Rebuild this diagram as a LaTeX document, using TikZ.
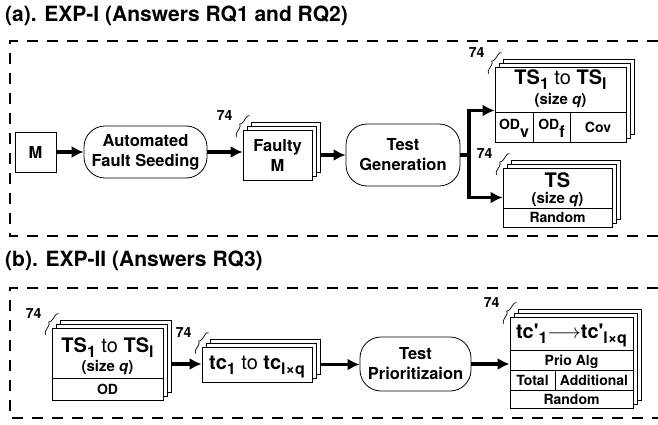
\documentclass[tikz,border=0pt]{standalone}
\usepackage{fontspec}
\setmainfont{TeX Gyre Heros}
\usepackage{tikz}
\usetikzlibrary{arrows.meta,shadows,decorations.pathreplacing}
\newcommand{\lowidx}[2][5pt]{\raisebox{-#1}{\fontsize{16}{16}\selectfont #2}}
\newcommand{\tsrange}{TS\lowidx{1} {\mdseries to} TS\lowidx{l}}
\tikzstyle{dashframe} = [line width=1.4pt, dash pattern=on 11pt off 9pt]
\tikzstyle{heading} = [anchor=west, inner sep=0, font=\fontsize{21}{24}\selectfont\bfseries]
\tikzstyle{block} = [draw, line width=0.8pt, fill=white, align=center, inner sep=0, font=\fontsize{16.5}{20}\selectfont\bfseries]
\tikzstyle{process} = [block, rounded corners=21pt]
\tikzstyle{stackbox} = [block, double copy shadow={shadow xshift=4pt, shadow yshift=4pt, fill=white, draw, line width=0.8pt}]
\tikzstyle{cell} = [anchor=base, inner sep=0, font=\fontsize{14}{16}\selectfont\bfseries]
\tikzstyle{big} = [anchor=base, inner sep=0, font=\fontsize{20}{22}\selectfont\bfseries]
\tikzstyle{tally} = [inner sep=0, font=\fontsize{14}{16}\selectfont\bfseries]
\tikzstyle{countbrace} = [draw, line width=0.7pt, decorate, decoration={brace, amplitude=4pt}]
\tikzstyle{divider} = [draw, line width=0.8pt]
\tikzstyle{line} = [draw, line width=3.5pt, -{Latex[length=12pt, width=12pt]}]

\begin{document}
\begin{tikzpicture}[x=1pt, y=-1pt]
		\useasboundingbox (0,0) rectangle (658,425);
		% Headings and frames
		\node [heading] (heada) at (5,16) {(a). EXP-I (Answers RQ1 and RQ2)};
		\draw [dashframe] (658,41) -- (10,41) -- (10,236) -- (658,236);
		\node [heading] (headb) at (5,261) {(b). EXP-II (Answers RQ3)};
		\draw [dashframe] (658,288) -- (10,288) -- (10,418) -- (658,418);
		% Place nodes (a)
		\node [block, minimum width=41pt, minimum height=40pt] (m) at (35.5,152) {M};
		\node [process, minimum width=123pt, minimum height=52pt] (seed) at (145.5,152) {Automated\\Fault Seeding};
		\node [stackbox, minimum width=69pt, minimum height=50pt] (faulty) at (277.5,155) {Faulty\\M};
		\node [process, minimum width=114pt, minimum height=62pt] (tgen) at (403,155) {Test\\Generation};
		\node [stackbox, minimum width=131pt, minimum height=75pt] (tsa) at (560.5,104.5) {};
		\node [stackbox, minimum width=109pt, minimum height=59pt] (tsr) at (557.5,197.5) {};
		\node [big] (tsa-name) at (560.5,85) {\tsrange};
		\node [cell, font=\fontsize{15}{17}\selectfont\bfseries] (tsa-size) at (560.5,105) {(size \textit{q})};
		\draw [divider] (tsa.west |- 0,112) -- (tsa.east |- 0,112);
		\draw [divider] (533,112) -- (533,142);
		\draw [divider] (570,112) -- (570,142);
		\node [cell] (odv) at (514,129) {OD\lowidx[9pt]{v}};
		\node [cell] (odf) at (551.5,129) {OD\lowidx[9pt]{f}};
		\node [cell] (cov) at (598,132) {Cov};
		\node [big] (tsr-name) at (557.5,187) {TS};
		\node [cell, font=\fontsize{15}{17}\selectfont\bfseries] (tsr-size) at (557.5,203) {(size \textit{q})};
		\draw [divider] (tsr.west |- 0,208) -- (tsr.east |- 0,208);
		\node [cell] (tsr-rand) at (557.5,222.5) {Random};
		% Place nodes (b)
		\node [stackbox, minimum width=111pt, minimum height=72pt] (tsb) at (107.5,364) {};
		\node [stackbox, minimum width=110pt, minimum height=35pt] (tcb) at (257,364.5) {};
		\node [process, minimum width=111pt, minimum height=54pt] (tprio) at (415.5,364) {Test\\Prioritizaion};
		\node [stackbox, minimum width=123pt, minimum height=91pt] (ranked) at (571.5,362.5) {};
		\node [big] (tsb-name) at (107.5,352) {\tsrange};
		\node [cell, font=\fontsize{15}{17}\selectfont\bfseries] (tsb-size) at (107.5,371) {(size \textit{q})};
		\draw [divider] (tsb.west |- 0,378) -- (tsb.east |- 0,378);
		\node [cell] (tsb-od) at (107.5,394) {OD};
		\node [big] (tcb-name) at (257,369) {tc\lowidx{1} {\mdseries to} tc\lowidx{l×q}};
		\node [big] (ranked-name) at (571.5,338) {tc\textquotesingle\lowidx{1}$\longrightarrow$tc\textquotesingle\lowidx{l×q}};
		\draw [divider] (ranked.west |- 0,350) -- (ranked.east |- 0,350);
		\draw [divider] (ranked.west |- 0,370) -- (ranked.east |- 0,370);
		\draw [divider] (ranked.west |- 0,390) -- (ranked.east |- 0,390);
		\draw [divider] (555,370) -- (555,390);
		\node [cell] (alg) at (571.5,365) {Prio Alg};
		\node [cell] (total) at (532.5,385) {Total};
		\node [cell] (addl) at (594,385) {Additional};
		\node [cell] (ranked-rand) at (571.5,404) {Random};
		% Counts
		\foreach \s in {faulty,tsa,tsr,tsb,tcb,ranked} {
			\draw [countbrace] ([shift={(-6pt,-7pt)}]\s.north west) -- ([shift={(7pt,14pt)}]\s.north west);
			\node [tally] (\s-n) at ([shift={(-18pt,14pt)}]\s.north west) {74};
		}
		% Draw edges
		\path [line] (m) -- (seed);
		\path [line] (seed.east) -- (seed.east -| faulty.west);
		\path [line] ([xshift=8pt]faulty.east) -- (tgen.west);
		\coordinate (split) at (469,155);
		\draw [line width=3.5pt] (tgen.east) -- (split);
		\path [line] (split) |- ([yshift=-6pt]tsa.west);
		\path [line] (split) |- (tsr.west);
		\path [line] ([xshift=8pt]tsb.east) -- (tsb.east -| tcb.west);
		\path [line] ([xshift=8pt]tcb.east) -- (tcb.east -| tprio.west);
		\path [line] (tprio.east) -- (tprio.east -| ranked.west);
	\end{tikzpicture}
\end{document}
